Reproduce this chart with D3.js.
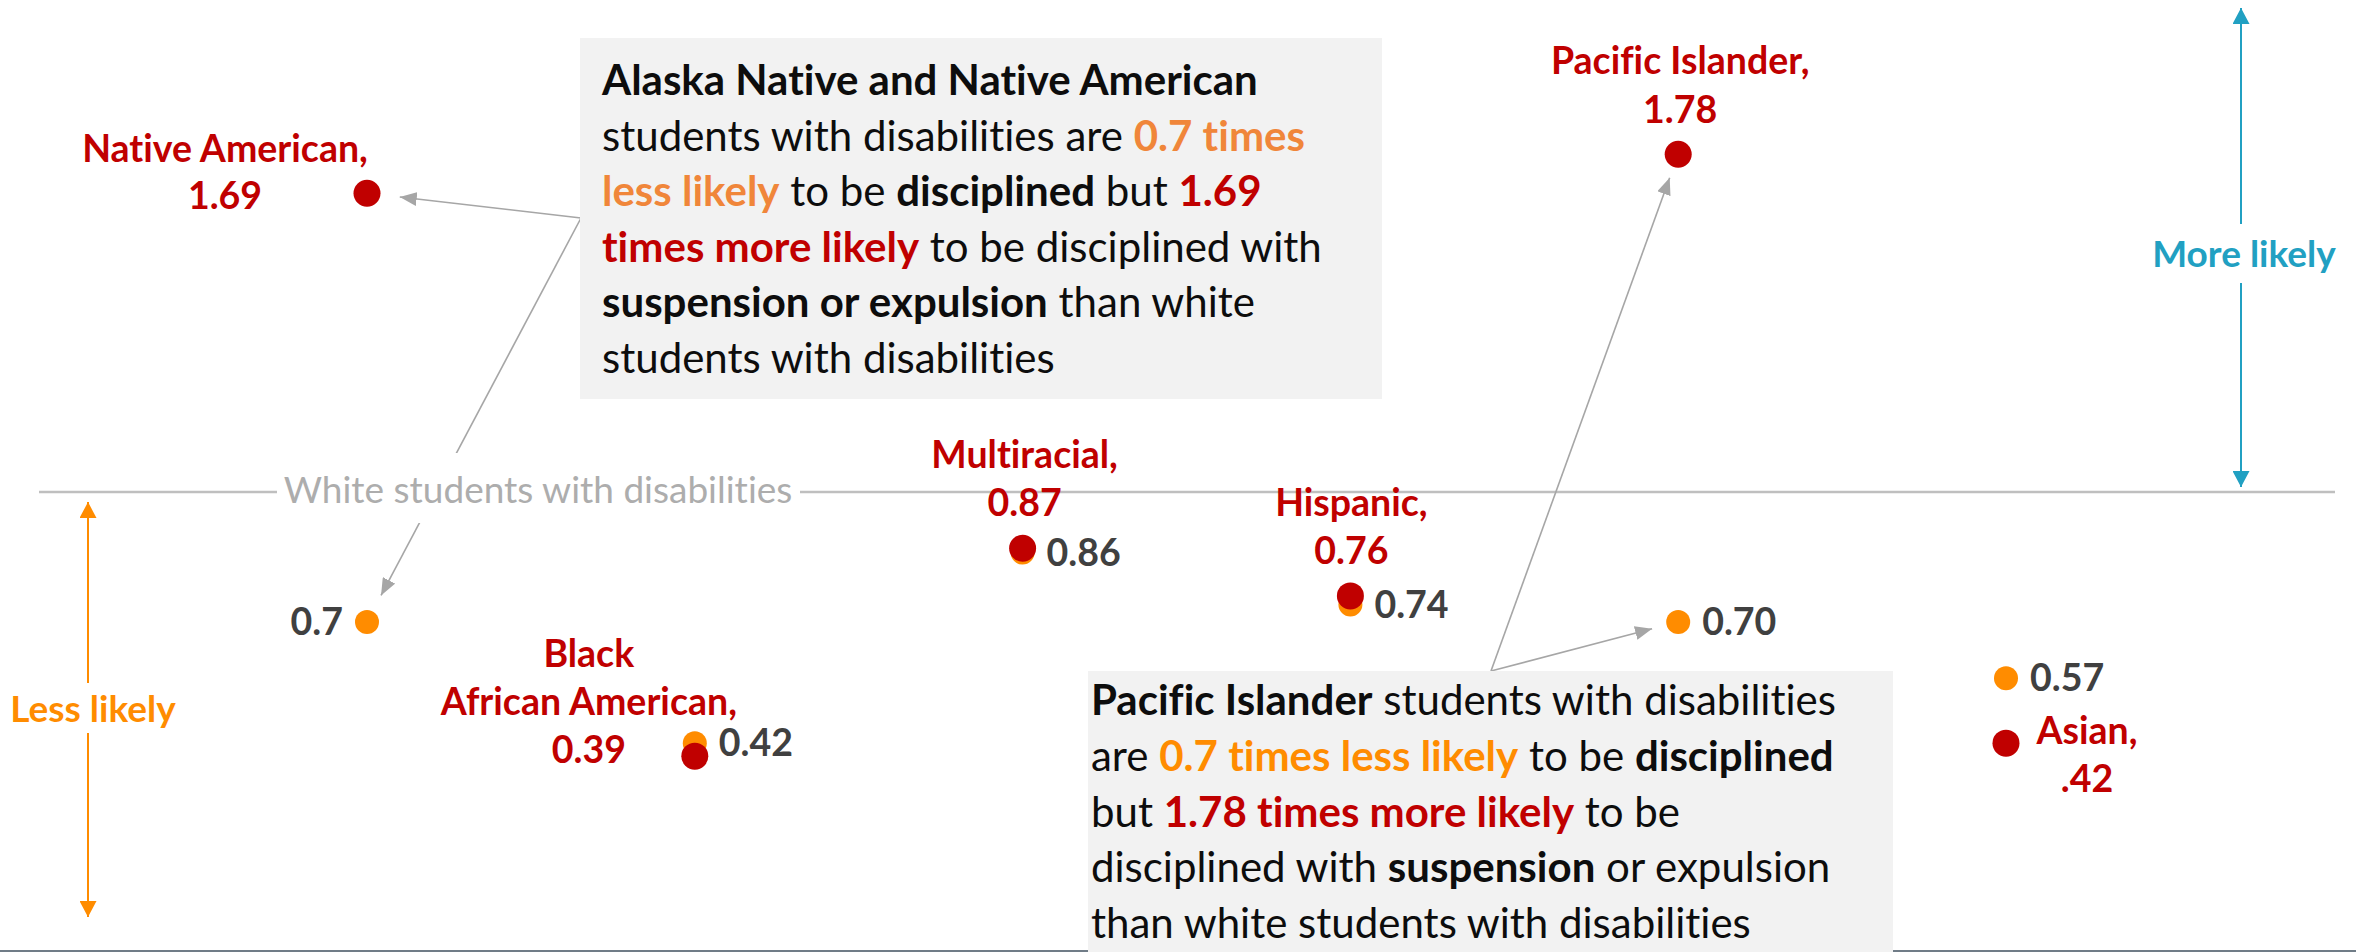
<!DOCTYPE html>
<html>
<head>
<meta charset="utf-8">
<script src="https://cdn.jsdelivr.net/npm/d3@7"></script>
<style>
  html, body { margin: 0; padding: 0; background: #fff; }
  svg { display: block; }
  text { font-family: Lato, "Open Sans", "Noto Sans", sans-serif; white-space: pre; font-variant-ligatures: none; }
</style>
</head>
<body>
<svg id="chart" width="2356" height="952"></svg>
<script>
// Discipline risk ratios for students with disabilities, relative to white students (= 1)
const categories = ["Native American", "Black African American", "Multiracial", "Hispanic", "Pacific Islander", "Asian"];
const disciplinedRate = [0.70, 0.42, 0.86, 0.74, 0.70, 0.57];   // any discipline
const suspensionRate  = [1.69, 0.39, 0.87, 0.76, 1.78, 0.42];   // suspension or expulsion
const disciplinedText = ["0.7", "0.42", "0.86", "0.74", "0.70", "0.57"];
const suspensionText  = [
  ["Native American,", "1.69"],
  ["Black", "African American,", "0.39"],
  ["Multiracial,", "0.87"],
  ["Hispanic,", "0.76"],
  ["Pacific Islander,", "1.78"],
  ["Asian,", ".42"]
];
const referenceRate = 1;
const referenceLabel = "White students with disabilities";
const directionLabels = ["More likely", "Less likely"];

// Callout copy: each line is a list of [text, style] runs
const calloutNative = [
  [["Alaska Native and Native American", "b"]],
  [["students with disabilities are ", "n"], ["0.7 times", "o"]],
  [["less likely", "o"], [" to be ", "n"], ["disciplined", "b"], [" but ", "n"], ["1.69", "r"]],
  [["times more likely", "r"], [" to be disciplined with", "n"]],
  [["suspension or expulsion", "b"], [" than white", "n"]],
  [["students with disabilities", "n"]]
];
const calloutPacific = [
  [["Pacific Islander", "b"], [" students with disabilities", "n"]],
  [["are ", "n"], ["0.7 times less likely", "o"], [" to be ", "n"], ["disciplined", "b"]],
  [["but ", "n"], ["1.78 times more likely", "r"], [" to be", "n"]],
  [["disciplined with ", "n"], ["suspension", "b"], [" or expulsion", "n"]],
  [["than white students with disabilities", "n"]]
];

// ---- styling ----
const RED = "#C00000", ORANGE = "#FF8C00", ORANGE_SOFT = "#F0863A", TEAL = "#21A0C2";
const GREY_ARROW = "#A6A6A6", GREY_LINE = "#BFBFBF", GREY_TEXT = "#404040";
const FS_CALLOUT = 42, FS_LABEL = 37.5, FS_VALUE = 37.5, FS_REF = 37, FS_DIR = 37;

const svg = d3.select("#chart");

const x = d3.scalePoint().domain(categories).range([367, 2006]);
const y = d3.scaleLinear().domain([0, 2]).range([925, 59]);

const rows = categories.map((c, i) => ({
  cat: c, disc: disciplinedRate[i], susp: suspensionRate[i],
  discText: disciplinedText[i], suspText: suspensionText[i]
}));

// arrowhead markers
const defs = svg.append("defs");
function marker(id, color, len, wid) {
  defs.append("marker")
    .attr("id", id).attr("markerUnits", "userSpaceOnUse")
    .attr("viewBox", `0 0 ${len} ${wid}`)
    .attr("markerWidth", len).attr("markerHeight", wid)
    .attr("refX", len).attr("refY", wid / 2)
    .attr("orient", "auto")
    .append("path").attr("d", `M0,0 L${len},${wid / 2} L0,${wid} Z`).attr("fill", color);
}
marker("headGrey", GREY_ARROW, 17, 14);
marker("headTeal", TEAL, 16, 17);
marker("headOrange", ORANGE, 16, 17);

// bottom rule
svg.append("line").attr("x1", 0).attr("x2", 2356).attr("y1", 951).attr("y2", 951)
  .attr("stroke", "#707C87").attr("stroke-width", 2);

// reference line at ratio = 1
const y0 = y(referenceRate);
svg.append("line").attr("x1", 39).attr("x2", 2335).attr("y1", y0).attr("y2", y0)
  .attr("stroke", GREY_LINE).attr("stroke-width", 2.5);

// direction arrows
const moreX = 2241, lessX = 88;
svg.append("line").attr("x1", moreX).attr("x2", moreX).attr("y1", 224).attr("y2", 8)
  .attr("stroke", TEAL).attr("stroke-width", 2).attr("marker-end", "url(#headTeal)");
svg.append("line").attr("x1", moreX).attr("x2", moreX).attr("y1", 283).attr("y2", y0 - 5)
  .attr("stroke", TEAL).attr("stroke-width", 2).attr("marker-end", "url(#headTeal)");
svg.append("text").attr("x", moreX + 3).attr("y", 267).attr("text-anchor", "middle")
  .attr("font-size", FS_DIR).attr("font-weight", 700).attr("fill", TEAL).text(directionLabels[0]);

svg.append("line").attr("x1", lessX).attr("x2", lessX).attr("y1", 683).attr("y2", y0 + 10)
  .attr("stroke", ORANGE).attr("stroke-width", 2).attr("marker-end", "url(#headOrange)");
svg.append("line").attr("x1", lessX).attr("x2", lessX).attr("y1", 733).attr("y2", 917)
  .attr("stroke", ORANGE).attr("stroke-width", 2).attr("marker-end", "url(#headOrange)");
svg.append("text").attr("x", lessX + 5).attr("y", 722).attr("text-anchor", "middle")
  .attr("font-size", FS_DIR).attr("font-weight", 700).attr("fill", ORANGE).text(directionLabels[1]);

// callout pointer arrows, aimed at the data points
function pointer(from, tx, ty, gap) {
  const dx = from[0] - tx, dy = from[1] - ty, len = Math.hypot(dx, dy);
  svg.append("line")
    .attr("x1", from[0]).attr("y1", from[1])
    .attr("x2", tx + dx / len * gap).attr("y2", ty + dy / len * gap)
    .attr("stroke", GREY_ARROW).attr("stroke-width", 1.6)
    .attr("marker-end", "url(#headGrey)");
}
const native = rows[0], pacific = rows[4];
const nativeAnchor = [581, 218], pacificAnchor = [1491, 671];
pointer(nativeAnchor, x(native.cat), y(native.susp), 33);
pointer(nativeAnchor, x(native.cat), y(native.disc), 30);
pointer(pacificAnchor, x(pacific.cat), y(pacific.susp), 25);
pointer(pacificAnchor, x(pacific.cat), y(pacific.disc), 27);

// label on the reference line (knocks out line and pointer behind it)
svg.append("rect").attr("x", 277).attr("y", 453).attr("width", 523).attr("height", 70).attr("fill", "#fff");
svg.append("text").attr("x", 538).attr("y", 503).attr("text-anchor", "middle")
  .attr("font-size", FS_REF).attr("fill", "#ADADAD").text(referenceLabel);

// dots: discipline (orange) beneath suspension/expulsion (red)
svg.append("g").selectAll("circle").data(rows).join("circle")
  .attr("cx", d => x(d.cat)).attr("cy", d => y(d.disc)).attr("r", 12).attr("fill", ORANGE);
svg.append("g").selectAll("circle").data(rows).join("circle")
  .attr("cx", d => x(d.cat)).attr("cy", d => y(d.susp)).attr("r", 13.5).attr("fill", RED);

// value labels for discipline ratios
const discLayout = { "Native American": { dx: -24, anchor: "end" } };
svg.append("g").selectAll("text").data(rows).join("text")
  .attr("x", d => x(d.cat) + (discLayout[d.cat] ? discLayout[d.cat].dx : 24))
  .attr("y", d => y(d.disc) + 13)
  .attr("text-anchor", d => discLayout[d.cat] ? discLayout[d.cat].anchor : "start")
  .attr("font-size", FS_VALUE).attr("font-weight", 700).attr("fill", GREY_TEXT)
  .text(d => d.discText);

// category labels with suspension/expulsion ratios
const suspLayout = {
  "Native American":        { dx: -142, dy: -31, lh: 47 },
  "Black African American": { dx: -106, dy: -89, lh: 48 },
  "Multiracial":            { dx: 2,    dy: -80, lh: 48 },
  "Hispanic":               { dx: 1,    dy: -80, lh: 48 },
  "Pacific Islander":       { dx: 2,    dy: -80, lh: 49 },
  "Asian":                  { dx: 81,   dy: 1,   lh: 48 }
};
const labels = svg.append("g").selectAll("text").data(rows).join("text")
  .attr("text-anchor", "middle").attr("font-size", FS_LABEL).attr("font-weight", 700).attr("fill", RED)
  .attr("transform", d => `translate(${x(d.cat) + suspLayout[d.cat].dx},${y(d.susp) + suspLayout[d.cat].dy})`);
labels.selectAll("tspan").data(d => d.suspText.map((t, j) => ({ t, j, lh: suspLayout[d.cat].lh })))
  .join("tspan").attr("x", 0).attr("y", d => d.j * d.lh).text(d => d.t);

// callout boxes
const runStyle = {
  n: { w: 400, c: "#0D0D0D" },
  b: { w: 700, c: "#0D0D0D" },
  r: { w: 700, c: RED }
};
function callout(box, textX, firstBase, lineH, lines, orange) {
  svg.append("rect").attr("x", box[0]).attr("y", box[1]).attr("width", box[2]).attr("height", box[3])
    .attr("fill", "#F2F2F2");
  const t = svg.append("text").attr("font-size", FS_CALLOUT);
  lines.forEach((line, i) => {
    line.forEach((run, k) => {
      const s = run[1] === "o" ? { w: 700, c: orange } : runStyle[run[1]];
      const ts = t.append("tspan").attr("font-weight", s.w).attr("fill", s.c).text(run[0]);
      if (k === 0) ts.attr("x", textX).attr("y", firstBase + i * lineH);
    });
  });
}
callout([580, 38, 802, 361], 602, 95, 55.6, calloutNative, ORANGE_SOFT);
callout([1088, 671, 805, 290], 1091, 715, 55.8, calloutPacific, ORANGE);
</script>
</body>
</html>
